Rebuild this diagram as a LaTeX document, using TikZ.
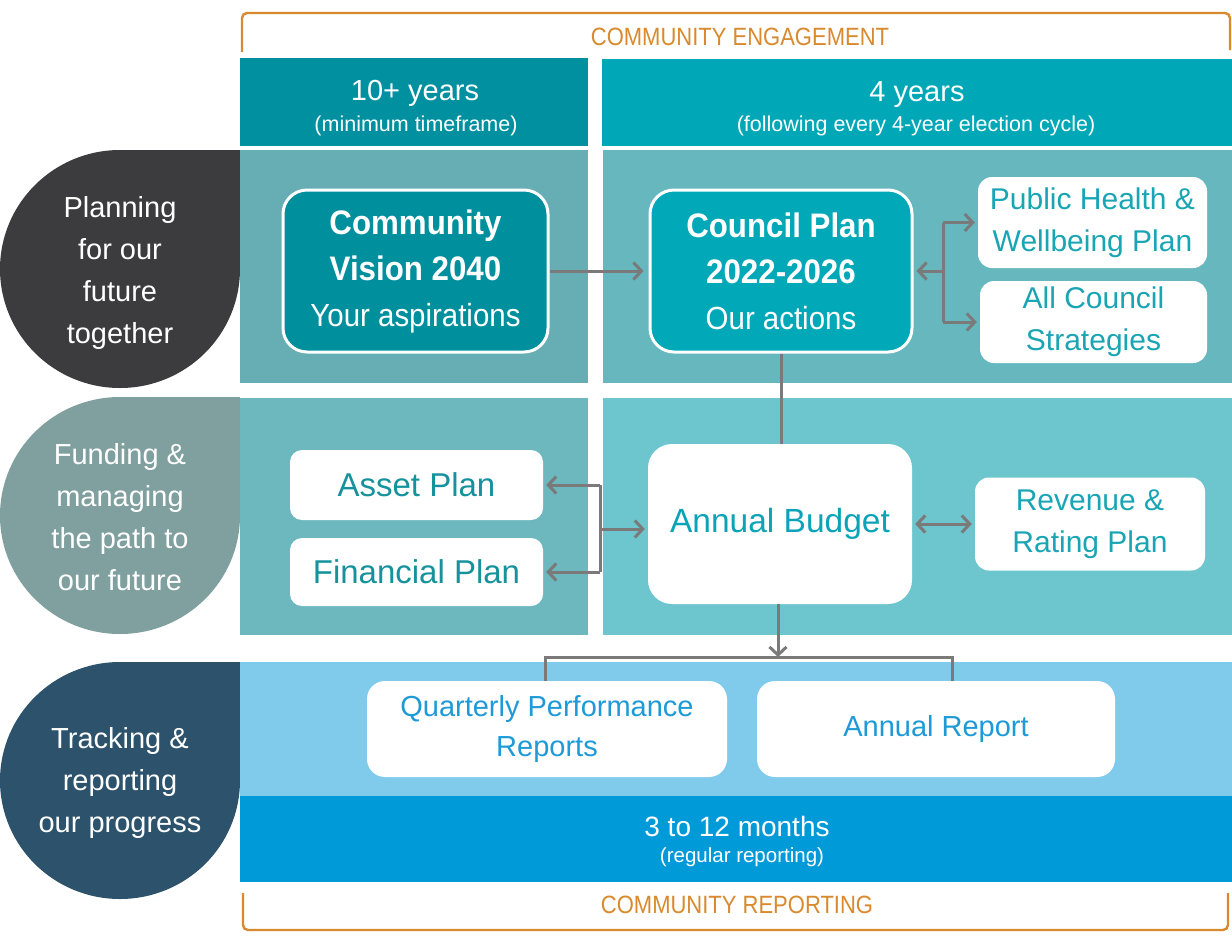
\documentclass[tikz,border=0pt]{standalone}
\usepackage{fontspec}
\setmainfont{Liberation Sans}
\newfontfamily\cnd{Liberation Sans}[FakeStretch=0.92]
\newfontfamily\cndn{Liberation Sans}[FakeStretch=0.88]
\usetikzlibrary{arrows.meta}
\definecolor{cgrey}{HTML}{7A7A7A}
\definecolor{corange}{HTML}{D98A2E}
\definecolor{hA}{HTML}{0090A0}
\definecolor{hB}{HTML}{00A7B7}
\definecolor{pAl}{HTML}{66AEB4}
\definecolor{pAr}{HTML}{67B7BE}
\definecolor{pBl}{HTML}{6CB8BE}
\definecolor{pBr}{HTML}{6DC6CE}
\definecolor{pCa}{HTML}{80CBEC}
\definecolor{pCb}{HTML}{009AD9}
\definecolor{bA}{HTML}{3C3C3E}
\definecolor{bB}{HTML}{809F9F}
\definecolor{bC}{HTML}{2D526B}
\definecolor{cvfill}{HTML}{008F9D}
\definecolor{cpfill}{HTML}{00A8B8}
\definecolor{ttext}{HTML}{1AA5B5}
\definecolor{tdark}{HTML}{16929C}
\definecolor{tbud}{HTML}{0AA3B7}
\definecolor{btext}{HTML}{1E9AD6}
\begin{document}
\begin{tikzpicture}[x=1pt,y=-1pt,
  conn/.style={draw=cgrey,line width=3pt},
  arr/.style={conn,-{Straight Barb[length=8pt,width=17pt]},shorten >=3pt},
  dbl/.style={conn,{Straight Barb[length=8pt,width=17pt]}-{Straight Barb[length=8pt,width=17pt]},shorten >=3pt,shorten <=3pt},
  bigbox/.style={draw=white,line width=3pt,rounded corners=24pt,align=center,text=white,inner sep=0pt,font=\cnd\fontsize{34}{46}\selectfont},
  wbox/.style={fill=white,rounded corners=14pt,align=center,inner sep=0pt},
  tealtxt/.style={text=ttext,font=\fontsize{30}{42}\selectfont},
  bluetxt/.style={text=btext,font=\fontsize{29}{40}\selectfont},
  blobtxt/.style={text=white,align=center,font=\fontsize{29}{42}\selectfont},
  hdr/.style={text=white,anchor=base,font=\fontsize{29}{34}\selectfont},
  hdrsub/.style={text=white,anchor=base,font=\fontsize{21.5}{26}\selectfont},
  brk/.style={draw=corange,line width=2.4pt,rounded corners=5pt},
  brktxt/.style={text=corange,font=\cndn\fontsize{25}{30}\selectfont}
]
\useasboundingbox (0,0) rectangle (1232,938);
\fill[white] (0,0) rectangle (1232,938);

% brackets
\draw[brk] (242,52) -- (242,13) -- (1230,13) -- (1230,50);
\node[brktxt] (ce) at (740,37) {COMMUNITY ENGAGEMENT};
\draw[brk] (243,893) -- (243,930) -- (1228,930) -- (1228,893);
\node[brktxt] (cr) at (737,905) {COMMUNITY REPORTING};

% headers
\fill[hA] (240,58) rectangle (588,146);
\fill[hB] (602,59) rectangle (1232,146);
\node[hdr] (h1) at (415,100) {10+ years};
\node[hdrsub] (h1s) at (416,131) {(minimum timeframe)};
\node[hdr] (h2) at (917,101) {4 years};
\node[hdrsub] (h2s) at (916,131) {(following every 4-year election cycle)};

% panels
\fill[pAl] (240,150) rectangle (588,383);
\fill[pAr] (603,150) rectangle (1232,383);
\fill[pBl] (240,398) rectangle (588,635);
\fill[pBr] (603,398) rectangle (1232,635);
\fill[pCa] (240,662) rectangle (1232,796);
\fill[pCb] (240,796) rectangle (1232,882);

% blobs
\fill[bA] (120,269) ellipse [x radius=120pt, y radius=119pt];
\fill[bA] (120,150) rectangle (240,269);
\fill[bB] (120,515.5) ellipse [x radius=120pt, y radius=118.5pt];
\fill[bB] (120,397) rectangle (240,515.5);
\fill[bC] (120,780.5) ellipse [x radius=120pt, y radius=118.5pt];
\fill[bC] (120,662) rectangle (240,780.5);
\node[blobtxt] (t1) at (120,273) {Planning\\for our\\future\\together};
\node[blobtxt] (t2) at (120,517) {Funding \&\\managing\\the path to\\our future};
\node[blobtxt] (t3) at (120,783) {Tracking \&\\reporting\\our progress};

% boxes
\node[bigbox,fill=cvfill,minimum width=265pt,minimum height=162pt] (cv) at (415.5,271)
  {\textbf{Community}\\\textbf{Vision 2040}\\{\fontsize{32}{46}\selectfont Your aspirations}};
\node[bigbox,fill=cpfill,minimum width=262pt,minimum height=162pt] (cp) at (781,271)
  {\textbf{Council Plan}\\\textbf{2022-2026}\\{\fontsize{32}{46}\selectfont Our actions}};
\node[wbox,tealtxt,minimum width=229pt,minimum height=91pt] (ph) at (1092.5,222.5) {Public Health \&\\Wellbeing Plan};
\node[wbox,tealtxt,minimum width=227pt,minimum height=82pt] (acs) at (1093.5,322) {All Council\\Strategies};
\node[wbox,rounded corners=24pt,minimum width=264pt,minimum height=160pt,text=tbud,font=\fontsize{33.5}{40}\selectfont] (ab) at (780,524) {Annual Budget};
\node[wbox,rounded corners=12pt,minimum width=253pt,minimum height=70pt,text=tdark,font=\fontsize{33}{40}\selectfont] (ap) at (416.5,485) {Asset Plan};
\node[wbox,rounded corners=12pt,minimum width=253pt,minimum height=68pt,text=tdark,font=\fontsize{33}{40}\selectfont] (fp) at (416.5,572) {Financial Plan};
\node[wbox,tealtxt,minimum width=230pt,minimum height=93pt] (rr) at (1090,524) {Revenue \&\\Rating Plan};
\node[wbox,bluetxt,rounded corners=18pt,minimum width=360pt,minimum height=96pt] (qp) at (547,729) {Quarterly Performance\\Reports};
\node[wbox,bluetxt,rounded corners=18pt,minimum width=358pt,minimum height=96pt] (ar) at (936,729) {Annual Report};

% bottom band text
\node[text=white,font=\fontsize{28}{32}\selectfont] (m1) at (737,826) {3 to 12 months};
\node[text=white,font=\fontsize{20.5}{24}\selectfont] (m2) at (742,857) {(regular reporting)};

% connectors
\draw[arr,shorten >=5pt] (cv.east) -- (cp.west);
\coordinate (jt) at (943,271);
\draw[conn] (jt |- ph.west) -- (jt |- acs.west);
\draw[arr] (jt |- ph.west) -- (ph.west);
\draw[arr] (jt |- acs.west) -- (acs.west);
\draw[arr] (jt) -- (cp.east);
\draw[conn] (cp.south) -- (cp.south |- ab.north);
\coordinate (jl) at (600,529);
\draw[conn] (jl |- ap.east) -- (jl |- fp.east);
\draw[arr] (jl |- ap.east) -- (ap.east);
\draw[arr] (jl |- fp.east) -- (fp.east);
\draw[arr] (jl) -- (jl -| ab.west);
\draw[dbl] (ab.east) -- (rr.west);
\coordinate (jb) at (778,657);
\draw[arr,shorten >=0pt] (ab.south -| jb) -- (jb);
\draw[conn] ([xshift=-2pt]qp.north) |- (jb) -| ([xshift=16pt]ar.north);
\end{tikzpicture}
\end{document}
